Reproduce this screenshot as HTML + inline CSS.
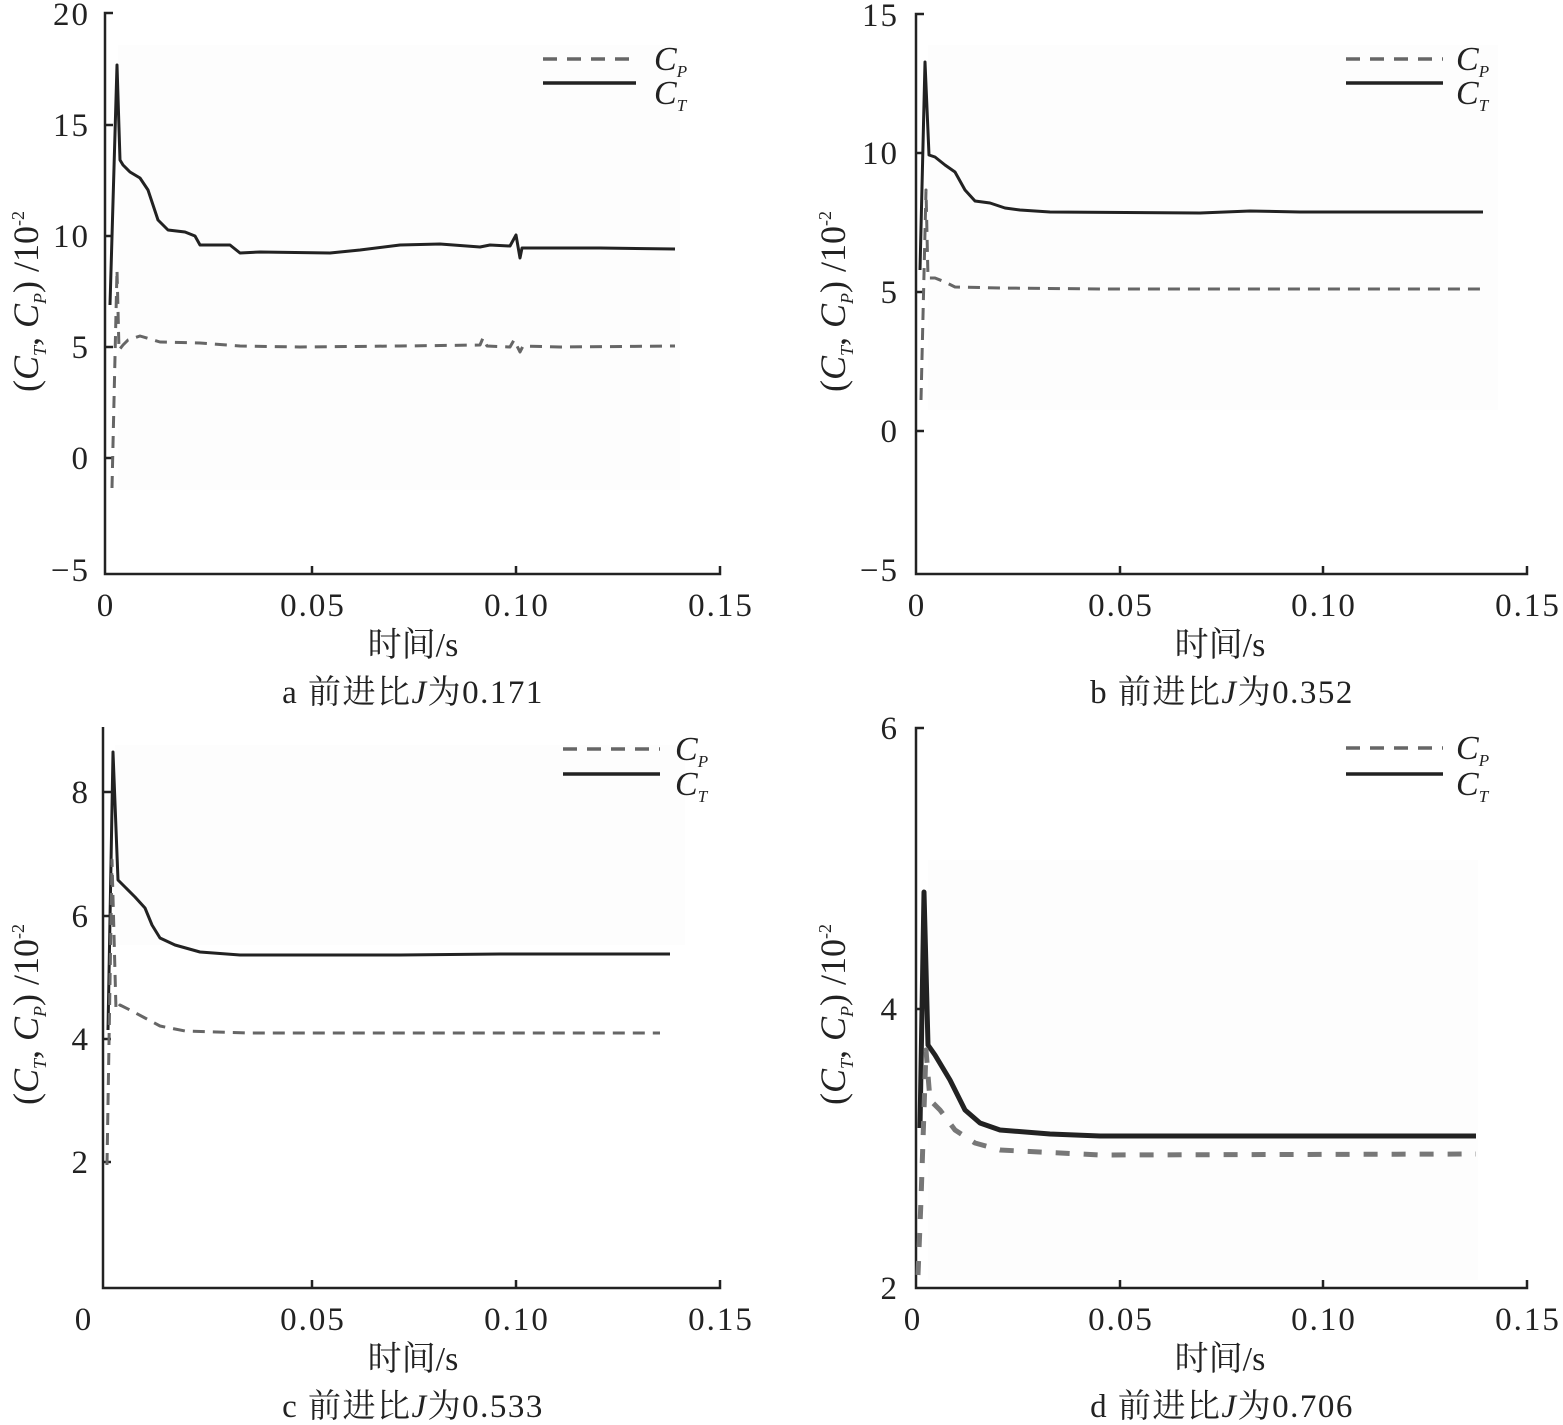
<!DOCTYPE html>
<html><head><meta charset="utf-8"><style>
html,body{margin:0;padding:0;background:#fff}
svg{display:block}
text{font-family:"Liberation Serif","Noto Serif CJK SC",serif;fill:#222}
</style></head><body>
<svg width="1563" height="1425" viewBox="0 0 1563 1425" xmlns="http://www.w3.org/2000/svg">
<rect width="1563" height="1425" fill="#fff"/>
<g fill="#fdfdfd">
<rect x="118" y="45" width="562" height="445"/>
<rect x="928" y="45" width="570" height="365"/>
<rect x="115" y="745" width="570" height="200"/>
<rect x="928" y="860" width="550" height="420"/>
</g>
<g stroke="#222" stroke-width="2.5" fill="none">
<polyline points="113,13 105,13 105,574 720,574 720,566"/>
<path d="M105,125h8M105,236h8M105,347h8M105,458h8M312,574v-8M516,574v-8"/>
<polyline points="924,14 916,14 916,574 1527,574 1527,566"/>
<path d="M916,153h8M916,292h8M916,431h8M1120,574v-8M1323,574v-8"/>
<polyline points="103,727 103,1288 720,1288 720,1280"/>
<path d="M103,792h8M103,916h8M103,1039h8M103,1162h8M312,1288v-8M516,1288v-8"/>
<polyline points="924,728 916,728 916,1288 1527,1288 1527,1280"/>
<path d="M916,1009h8M1120,1288v-8M1323,1288v-8"/>
</g>
<g font-size="33" letter-spacing="2" text-anchor="end">
<text x="90" y="25">20</text><text x="90" y="136">15</text><text x="90" y="247">10</text><text x="90" y="358">5</text><text x="90" y="469">0</text><text x="90" y="581">−5</text>
<text x="899" y="26">15</text><text x="899" y="164">10</text><text x="899" y="303">5</text><text x="899" y="442">0</text><text x="899" y="581">−5</text>
<text x="90" y="803">8</text><text x="90" y="927">6</text><text x="90" y="1050">4</text><text x="90" y="1173">2</text>
<text x="899" y="739">6</text><text x="899" y="1020">4</text><text x="899" y="1299">2</text>
</g>
<g font-size="33" letter-spacing="2" text-anchor="middle">
<text x="106" y="616">0</text><text x="313" y="616">0.05</text><text x="517" y="616">0.10</text><text x="721" y="616">0.15</text>
<text x="917" y="616">0</text><text x="1121" y="616">0.05</text><text x="1324" y="616">0.10</text><text x="1528" y="616">0.15</text>
<text x="84" y="1330">0</text><text x="313" y="1330">0.05</text><text x="517" y="1330">0.10</text><text x="721" y="1330">0.15</text>
<text x="913" y="1330">0</text><text x="1121" y="1330">0.05</text><text x="1324" y="1330">0.10</text><text x="1528" y="1330">0.15</text>
</g>
<g font-size="34" text-anchor="middle">
<text x="413" y="656">时间/s</text><text x="1220" y="656">时间/s</text><text x="413" y="1370">时间/s</text><text x="1220" y="1370">时间/s</text>
</g>
<g font-size="33" letter-spacing="1.5" text-anchor="middle">
<text x="413" y="703">a 前进比<tspan font-style="italic">J</tspan>为0.171</text>
<text x="1222" y="703">b 前进比<tspan font-style="italic">J</tspan>为0.352</text>
<text x="413" y="1417">c 前进比<tspan font-style="italic">J</tspan>为0.533</text>
<text x="1222" y="1417">d 前进比<tspan font-style="italic">J</tspan>为0.706</text>
</g>
<g font-size="36">
<text transform="translate(38,392) rotate(-90)">(<tspan font-style="italic">C</tspan><tspan font-size="18" font-style="italic" dy="8">T</tspan><tspan dy="-8">, </tspan><tspan font-style="italic">C</tspan><tspan font-size="18" font-style="italic" dy="8">P</tspan><tspan dy="-8">) /10</tspan><tspan font-size="18" dy="-14">-2</tspan></text>
<text transform="translate(845,392) rotate(-90)">(<tspan font-style="italic">C</tspan><tspan font-size="18" font-style="italic" dy="8">T</tspan><tspan dy="-8">, </tspan><tspan font-style="italic">C</tspan><tspan font-size="18" font-style="italic" dy="8">P</tspan><tspan dy="-8">) /10</tspan><tspan font-size="18" dy="-14">-2</tspan></text>
<text transform="translate(38,1105) rotate(-90)">(<tspan font-style="italic">C</tspan><tspan font-size="18" font-style="italic" dy="8">T</tspan><tspan dy="-8">, </tspan><tspan font-style="italic">C</tspan><tspan font-size="18" font-style="italic" dy="8">P</tspan><tspan dy="-8">) /10</tspan><tspan font-size="18" dy="-14">-2</tspan></text>
<text transform="translate(845,1105) rotate(-90)">(<tspan font-style="italic">C</tspan><tspan font-size="18" font-style="italic" dy="8">T</tspan><tspan dy="-8">, </tspan><tspan font-style="italic">C</tspan><tspan font-size="18" font-style="italic" dy="8">P</tspan><tspan dy="-8">) /10</tspan><tspan font-size="18" dy="-14">-2</tspan></text>
</g>
<g stroke-width="3.5" fill="none">
<line x1="543" y1="59" x2="636" y2="59" stroke="#666" stroke-dasharray="14,10"/><line x1="543" y1="83" x2="636" y2="83" stroke="#222"/>
<line x1="1346" y1="59" x2="1443" y2="59" stroke="#666" stroke-dasharray="14,10"/><line x1="1346" y1="83" x2="1443" y2="83" stroke="#222"/>
<line x1="563" y1="749" x2="660" y2="749" stroke="#666" stroke-dasharray="14,10"/><line x1="563" y1="774" x2="660" y2="774" stroke="#222"/>
<line x1="1346" y1="748" x2="1443" y2="748" stroke="#666" stroke-dasharray="14,10"/><line x1="1346" y1="774" x2="1443" y2="774" stroke="#222"/>
</g>
<g font-size="34" font-style="italic">
<text x="654" y="70">C<tspan font-size="17" dy="7">P</tspan></text><text x="654" y="104">C<tspan font-size="17" dy="7">T</tspan></text>
<text x="1456" y="70">C<tspan font-size="17" dy="7">P</tspan></text><text x="1456" y="104">C<tspan font-size="17" dy="7">T</tspan></text>
<text x="675" y="760">C<tspan font-size="17" dy="7">P</tspan></text><text x="675" y="795">C<tspan font-size="17" dy="7">T</tspan></text>
<text x="1456" y="759">C<tspan font-size="17" dy="7">P</tspan></text><text x="1456" y="795">C<tspan font-size="17" dy="7">T</tspan></text>
</g>
<g fill="none" stroke-linejoin="round">
<polyline stroke="#222" stroke-width="3" points="110,305 117,65 120,160 123,165 130,172 140,178 148,190 158,220 168,230 185,232 195,236 200,245 230,245 240,253 260,252 330,253 360,250 400,245 440,244 480,247 490,245 510,246 516,235 520,258 522,248 600,248 675,249"/>
<polyline stroke="#666" stroke-width="3" stroke-dasharray="12,8" points="112,488 117,270 119,350 123,345 128,340 140,336 160,342 200,343 240,346 300,347 400,346 480,345 483,338 487,346 510,347 514,340 520,352 523,346 560,347 675,346"/>
<polyline stroke="#222" stroke-width="3" points="920,270 925,62 929,155 935,157 945,165 955,172 965,190 975,201 990,203 1005,208 1020,210 1050,212 1200,213 1250,211 1300,212 1483,212"/>
<polyline stroke="#666" stroke-width="3" stroke-dasharray="12,8" points="921,400 926,190 928,278 935,278 945,282 955,287 1000,288 1100,289 1483,289"/>
<polyline stroke="#222" stroke-width="3" points="108,1030 113,752 118,880 125,887 135,897 145,908 152,925 160,938 175,945 200,952 240,955 400,955 500,954 670,954"/>
<polyline stroke="#666" stroke-width="3" stroke-dasharray="12,8" points="107,1165 112,860 116,1010 120,1005 130,1010 145,1018 160,1026 185,1031 250,1033 660,1033"/>
<polyline stroke="#222" stroke-width="5" points="920,1128 924,892 928,1045 935,1055 950,1080 965,1110 980,1123 1000,1130 1050,1134 1100,1136 1200,1136 1476,1136"/>
<polyline stroke="#777" stroke-width="5" stroke-dasharray="14,14" points="918,1275 921,1200 926,1050 930,1100 940,1110 955,1130 975,1143 1000,1150 1100,1155 1476,1154"/>
</g>
</svg>
</body></html>
